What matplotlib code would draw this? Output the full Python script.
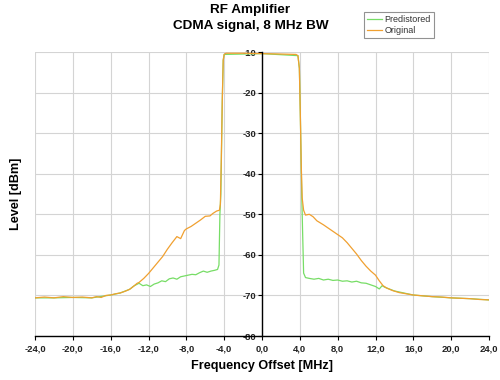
import matplotlib.pyplot as plt
from matplotlib.ticker import FuncFormatter

plt.rcParams['font.family'] = ['Liberation Sans', 'DejaVu Sans']
plt.rcParams['axes.unicode_minus'] = False

# ---- data ----
freq_orig = [-24.0, -23.0, -22.0, -21.0, -20.0, -19.0, -18.0, -17.5, -17.0, -16.5,
             -16.0, -15.5, -15.0, -14.5, -14.0, -13.5, -13.2, -13.0, -12.5, -12.0,
             -11.5, -11.0, -10.5, -10.0, -9.5, -9.0, -8.6, -8.2, -8.0, -7.5,
             -7.0, -6.5, -6.0, -5.5, -5.2, -4.8, -4.5, -4.4, -4.3, -4.2,
             -4.1, -4.0, -3.8, -2.0, 0.0, 2.0, 3.6, 3.8, 3.95, 4.05,
             4.15, 4.25, 4.4, 4.6, 5.0, 5.4, 5.8, 6.5, 7.0, 7.5,
             8.0, 8.5, 9.0, 9.5, 10.0, 10.5, 11.0, 11.5, 12.0, 12.4,
             12.8, 13.2, 13.8, 14.5, 15.0, 16.0, 17.0, 18.0, 19.0, 20.0,
             21.0, 22.0, 23.0, 24.0]
level_orig = [-70.6, -70.4, -70.6, -70.3, -70.5, -70.4, -70.6, -70.3, -70.5, -70.0,
              -69.9, -69.6, -69.4, -69.0, -68.5, -67.6, -67.0, -66.8, -65.8, -64.6,
              -63.2, -61.8, -60.4, -58.6, -57.0, -55.5, -56.0, -54.0, -53.6, -53.0,
              -52.2, -51.4, -50.5, -50.4, -49.8, -49.2, -49.0, -47.5, -36.0, -22.0,
              -12.0, -10.6, -10.3, -10.3, -10.4, -10.5, -10.6, -10.9, -14.0, -25.0,
              -38.0, -46.0, -49.0, -50.2, -50.0, -50.6, -51.6, -52.6, -53.4, -54.2,
              -55.0, -55.8, -57.0, -58.4, -59.8, -61.4, -62.8, -64.0, -65.0, -66.4,
              -67.6, -68.2, -68.8, -69.3, -69.5, -69.9, -70.1, -70.3, -70.4, -70.6,
              -70.7, -70.8, -71.0, -71.1]

freq_pre = [-24.0, -22.0, -20.0, -18.0, -16.0, -15.0, -14.0, -13.5, -13.0, -12.6,
            -12.2, -11.8, -11.4, -11.0, -10.6, -10.2, -9.8, -9.4, -9.0, -8.6,
            -8.2, -7.8, -7.4, -7.0, -6.6, -6.2, -5.8, -5.4, -5.0, -4.7,
            -4.55, -4.45, -4.35, -4.2, -4.1, -4.0, 0.0, 3.8, 3.95, 4.05,
            4.2, 4.3, 4.4, 4.6, 5.0, 5.5, 6.0, 6.5, 7.0, 7.5,
            8.0, 8.5, 9.0, 9.5, 10.0, 10.5, 11.0, 11.5, 12.0, 12.4,
            12.7, 13.0, 14.0, 16.0, 18.0, 20.0, 22.0, 24.0]
level_pre = [-70.6, -70.6, -70.5, -70.6, -69.9, -69.4, -68.5, -67.6, -67.0, -67.6,
             -67.4, -67.8, -67.2, -66.9, -66.4, -66.6, -65.9, -65.7, -66.0, -65.4,
             -65.2, -65.0, -64.8, -64.9, -64.4, -64.0, -64.3, -64.0, -63.8, -63.6,
             -62.5, -50.0, -45.0, -22.0, -12.0, -10.6, -10.4, -10.9, -14.0, -25.0,
             -45.0, -55.0, -64.5, -65.6, -65.8, -66.0, -65.8, -66.2, -66.0, -66.3,
             -66.2, -66.5, -66.4, -66.7, -66.5, -66.9, -67.0, -67.4, -67.8, -68.4,
             -67.6, -68.0, -68.9, -69.9, -70.3, -70.6, -70.8, -71.1]

xticks = list(range(-24, 25, 4))
yticks = list(range(-80, -9, 10))

# ---- figure ----
fig = plt.figure(figsize=(5, 3.8), dpi=100)
ax = fig.add_axes([35 / 500, 44 / 380, 454 / 500, 284 / 380])

ax.plot(freq_pre, level_pre, color='#77dd66', lw=0.9, label='Predistored')
ax.plot(freq_orig, level_orig, color='#f0a030', lw=0.9, label='Original')

ax.set_xlim(-24, 24)
ax.set_ylim(-80, -10)
ax.set_xticks(xticks)
ax.set_yticks(yticks)
ax.xaxis.set_major_formatter(FuncFormatter(lambda v, p: f"{v:.1f}".replace('.', ',')))

ax.grid(True, color='#d4d4d4', lw=0.8)
ax.set_axisbelow(True)

ax.spines['left'].set_position(('data', 0))
ax.spines['left'].set_color('black')
ax.spines['left'].set_linewidth(1.0)
ax.spines['bottom'].set_linewidth(1.0)
ax.spines['top'].set_visible(False)
ax.spines['right'].set_visible(False)
ax.tick_params(axis='both', labelsize=6.8, length=3, width=0.8, pad=3)
ax.tick_params(axis='y', pad=1)
for lab in ax.get_xticklabels() + ax.get_yticklabels():
    lab.set_fontweight('bold')
    lab.set_color('#222222')

ax.set_xlabel('Frequency Offset [MHz]', fontsize=9.1, fontweight='bold')
ax.xaxis.set_label_coords(0.5, -0.085)
ax.set_ylabel('Level [dBm]', fontsize=9.1, fontweight='bold')
ax.yaxis.set_label_coords(-0.028, 0.5)

fig.text(0.5, 1 - 10 / 380, 'RF Amplifier', ha='center', va='center',
         fontsize=9.7, fontweight='bold')
fig.text(0.502, 1 - 26 / 380, 'CDMA signal, 8 MHz BW', ha='center', va='center',
         fontsize=9.7, fontweight='bold')

leg = fig.legend(loc='upper left', bbox_to_anchor=(364 / 500, 1 - 12 / 380),
                 borderaxespad=0, fontsize=6.5, fancybox=False, frameon=True,
                 handlelength=1.6, handletextpad=0.3, labelspacing=0.2,
                 borderpad=0.35)
leg.get_frame().set_edgecolor('#777777')
leg.get_frame().set_linewidth(0.8)
for t in leg.get_texts():
    t.set_color('#333333')

fig.savefig('out.png', dpi=100)
